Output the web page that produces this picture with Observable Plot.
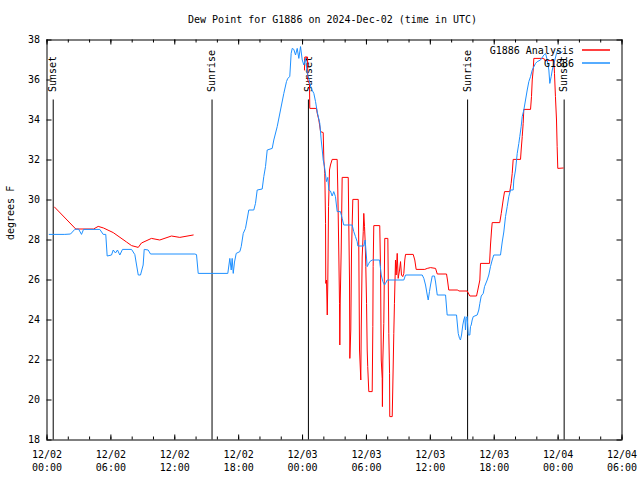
<!DOCTYPE html>
<html><head><meta charset="utf-8">
<script src="https://cdn.jsdelivr.net/npm/d3@7"></script>
<script src="https://cdn.jsdelivr.net/npm/@observablehq/plot@0.6"></script>
<style>html,body{margin:0;padding:0;background:#fff}svg{display:block}</style>
</head><body><div id="chart"></div>
<script>
const title = "Dew Point for G1886 on 2024-Dec-02 (time in UTC)";
const yLabel = "degrees F";
const startUTC = "2024-12-02T00:00:00Z";
const endUTC = "2024-12-04T06:00:00Z";
const yTicks = [18, 20, 22, 24, 26, 28, 30, 32, 34, 36, 38];
const xTickLabels = ["12/02\n00:00","12/02\n06:00","12/02\n12:00","12/02\n18:00","12/03\n00:00","12/03\n06:00","12/03\n12:00","12/03\n18:00","12/04\n00:00","12/04\n06:00"];
const seriesNames = ["G1886 Analysis", "G1886"];
const seriesColors = ["#ff0000", "#1e90ff"];

// Observations (hours since 12/02 00:00 UTC, deg F)
const obsHours = [0.21,1.67,2.21,2.61,2.96,3.24,3.43,4.96,5.28,5.52,5.65,6.06,6.22,6.43,6.62,6.84,7.09,7.94,8.25,8.41,8.57,8.78,9.03,9.13,9.5,9.72,13.88,14.04,14.2,16.98,17.17,17.3,17.39,17.49,17.61,17.77,18.11,18.24,18.43,18.64,18.95,19.42,19.58,19.74,20.21,20.36,20.52,20.68,21.15,21.3,21.62,21.93,22.24,22.49,22.61,22.8,22.93,23.03,23.18,23.34,23.5,23.65,23.81,23.97,24.12,24.28,24.44,24.59,24.81,25.06,25.22,25.38,25.62,25.75,25.85,25.94,26.06,26.16,26.25,26.37,26.47,26.62,26.78,26.93,27.09,27.25,27.56,27.72,27.87,28.66,28.81,28.97,29.13,29.19,29.75,29.88,30.07,30.22,30.32,30.54,31.23,31.39,31.54,31.7,31.79,31.95,33.51,33.67,35.24,35.39,35.55,35.71,35.8,35.92,36.02,36.18,36.39,36.49,36.65,37.43,37.58,38.46,38.62,38.74,38.83,38.93,39.05,39.14,39.24,39.3,39.37,39.46,39.56,39.71,39.77,39.84,39.93,40.03,40.4,40.55,40.65,40.78,40.97,41.09,41.34,41.49,41.65,41.81,41.96,42.59,42.75,42.9,43.06,43.22,43.37,43.53,43.78,43.84,44.0,44.16,44.31,44.4,44.53,44.63,44.78,44.94,45.1,45.25,45.41,45.57,45.88,46.04,46.35,46.66,46.82,46.98,47.13,47.22,47.35,47.45,47.66,47.85,47.97,48.22,48.38];
const obsValues = [28.28,28.28,28.3,28.53,28.55,28.28,28.53,28.53,28.28,28.28,27.2,27.25,27.5,27.35,27.5,27.25,27.53,27.53,27.27,26.75,26.25,26.25,26.75,27.53,27.5,27.3,27.3,27.27,26.33,26.33,27.08,26.5,27.08,26.33,26.9,27.33,27.42,27.67,28.33,28.58,29.5,29.5,29.83,30.5,30.55,31.17,31.67,32.5,32.58,33.0,33.67,34.5,35.33,35.92,36.08,36.17,37.33,37.58,37.53,37.25,37.58,37.08,37.67,37.0,36.75,37.08,36.33,36.08,35.58,35.33,34.92,34.4,33.83,33.0,32.5,32.0,31.67,31.25,30.92,31.13,30.5,30.45,30.2,30.42,30.17,29.42,29.42,29.08,28.75,28.75,28.42,28.17,27.92,27.7,27.7,28.0,26.67,26.83,26.92,27.0,27.0,26.25,25.92,25.75,25.83,26.0,26.0,26.25,26.25,26.08,25.75,25.25,25.0,25.42,25.75,26.2,26.2,25.9,25.25,25.25,24.25,24.25,23.33,23.08,23.0,23.25,23.75,24.0,24.17,23.5,24.08,24.17,23.25,23.25,23.67,23.75,24.0,24.17,24.25,24.5,24.83,25.2,25.33,25.67,26.0,26.25,26.67,27.0,27.25,27.25,27.9,28.4,29.17,29.67,30.17,30.5,30.5,31.0,31.5,32.33,32.83,33.17,33.67,34.17,34.5,35.0,35.5,35.92,36.17,36.5,36.83,36.92,37.0,37.25,37.33,37.0,36.5,35.83,36.17,36.5,36.92,37.33,37.5,37.33,37.42];

// Analysis (null marks the gap)
const anaHours = [0.7,2.7,4.37,4.81,5.31,6.22,7.47,7.94,8.57,8.87,9.81,10.59,11.69,12.47,13.73,19,24.18,24.21,24.47,24.49,24.65,24.68,25.31,25.38,25.53,25.69,25.94,26.0,26.09,26.16,26.18,26.25,26.32,26.37,26.44,26.53,26.62,26.78,27.25,27.31,27.4,27.47,27.5,27.54,27.63,27.72,28.29,28.34,28.41,28.44,28.53,28.6,28.72,29.23,29.28,29.35,29.47,29.51,29.6,29.7,29.75,29.82,29.88,29.94,30.01,30.07,30.12,30.22,30.54,30.6,30.63,30.69,31.25,31.32,31.39,31.48,31.5,31.54,31.63,31.72,32.01,32.1,32.17,32.19,32.42,32.47,32.57,32.63,32.73,32.79,32.89,32.98,33.11,33.2,33.29,33.41,33.51,33.6,33.67,34.39,34.54,34.67,35.48,35.71,36.02,36.49,36.65,37.52,37.61,37.73,38.58,38.67,39.46,39.61,39.71,40.34,40.46,40.65,40.71,41.56,41.65,41.75,41.81,42.52,42.66,42.84,42.97,43.46,43.59,43.69,43.78,44.47,44.53,44.63,44.72,44.78,45.41,45.5,45.57,45.66,45.72,46.66,46.75,47.6,47.66,47.75,47.85,47.91,47.97,48.48];
const anaValues = [29.65,28.55,28.55,28.68,28.6,28.37,27.9,27.72,27.63,27.85,28.08,28.0,28.2,28.13,28.25,null,36.5,37.15,37.15,36.0,35.8,34.58,34.58,34.33,34.0,33.42,33.37,32.0,31.33,28.83,25.83,26.0,24.25,25.85,29.67,31.5,31.75,32.03,32.03,30.5,27.5,24.83,22.75,25.0,27.5,31.13,31.13,28.85,26.0,22.08,23.5,27.5,30.03,30.03,27.7,22.5,21.0,23.5,27.15,28.42,29.33,28.67,27.92,26.67,24.83,22.5,21.67,20.42,20.42,23.67,26.67,28.72,28.72,26.67,22.0,21.08,19.67,22.0,23.83,28.08,28.08,23.33,21.33,19.17,19.17,20.5,23.33,24.83,27.0,26.25,27.33,26.08,26.5,26.92,26.25,26.17,26.33,27.0,27.28,27.28,27.0,26.53,26.53,26.58,26.62,26.58,26.3,26.3,26.0,25.5,25.5,25.45,25.45,25.3,25.2,25.2,25.5,26.0,26.83,26.83,27.75,28.5,28.87,28.87,29.33,30.0,30.42,30.42,30.83,31.33,32.03,32.03,32.5,33.17,33.83,34.53,34.53,35.17,36.0,36.5,37.08,37.08,36.97,36.97,36.33,35.17,34.0,32.67,31.58,31.6];

const sunLabels = ["Sunset", "Sunrise", "Sunset", "Sunrise", "Sunset"];
const sunTimes = ["2024-12-02T00:35:00Z", "2024-12-02T15:30:00Z", "2024-12-03T00:33:00Z", "2024-12-03T15:30:00Z", "2024-12-04T00:34:00Z"];
const sunLineTop = 35;

const t0 = Date.parse(startUTC);
const toDate = h => new Date(t0 + h * 3600000);
const obs = obsHours.map((h, i) => ({t: toDate(h), v: obsValues[i]}));
const ana = anaHours.map((h, i) => ({t: toDate(h), v: anaValues[i]}));
const sun = sunTimes.map((s, i) => ({t: new Date(s), label: sunLabels[i]}));

const x0 = new Date(startUTC), x1 = new Date(endUTC);
const majorTicks = d3.utcHour.every(6).range(x0, new Date(+x1 + 1));
const minorTicks = d3.utcHour.every(2).range(x0, new Date(+x1 + 1));
const fmtX = d => xTickLabels[majorTicks.findIndex(t => +t === +d)];
const font = "DejaVu Sans Mono";
const lineSymbol = {draw(ctx) { ctx.moveTo(-14, 0); ctx.lineTo(14, 0); }};

const W = 640, H = 480, mL = 46.5, mR = 18.5, mT = 39.5, mB = 40.5;
const FW = W - mL - mR, FH = H - mT - mB;
const MAJ = 5, MIN = 3;
const id = d => d;

const chart = Plot.plot({
  width: W, height: H,
  marginLeft: mL, marginRight: mR, marginTop: mT, marginBottom: mB,
  style: {fontFamily: font, fontSize: "10px", background: "#fff", color: "#000"},
  x: {type: "utc", domain: [x0, x1]},
  y: {domain: [18, 38]},
  axis: null,
  marks: [
    // inward-pointing ticks on all four sides
    Plot.tickX(minorTicks, {x: id, insetTop: FH - MIN, stroke: "#000"}),
    Plot.tickX(minorTicks, {x: id, insetBottom: FH - MIN, stroke: "#000"}),
    Plot.tickX(majorTicks, {x: id, insetTop: FH - MAJ, stroke: "#000"}),
    Plot.tickX(majorTicks, {x: id, insetBottom: FH - MAJ, stroke: "#000"}),
    Plot.tickY(yTicks, {y: id, insetRight: FW - MAJ, stroke: "#000"}),
    Plot.tickY(yTicks, {y: id, insetLeft: FW - MAJ, stroke: "#000"}),
    // tick labels
    Plot.axisX({anchor: "bottom", ticks: majorTicks, tickSize: 0, tickPadding: 9, tickFormat: fmtX, label: null, lineHeight: 1.3}),
    Plot.axisY({anchor: "left", ticks: yTicks, tickSize: 0, tickPadding: 7, label: null}),
    Plot.frame({stroke: "#000"}),
    Plot.ruleX(sun, {x: "t", y1: sunLineTop, y2: 18, stroke: "#000"}),
    Plot.text(sun, {x: "t", y: sunLineTop, text: "label", rotate: -90, textAnchor: "start", dy: -8, fill: "#000"}),
    Plot.line(ana, {x: "t", y: "v", stroke: seriesColors[0], strokeWidth: 1}),
    Plot.line(obs, {x: "t", y: "v", stroke: seriesColors[1], strokeWidth: 1}),
    Plot.text([title], {frameAnchor: "top", lineAnchor: "middle", dy: -20, dx: -2, fill: "#000"}),
    Plot.text([yLabel], {frameAnchor: "left", rotate: -90, dx: -36.5, fill: "#000"}),
    Plot.text([seriesNames[0]], {frameAnchor: "top-right", lineAnchor: "middle", textAnchor: "end", dx: -48, dy: 11, fill: "#000"}),
    Plot.text([seriesNames[1]], {frameAnchor: "top-right", lineAnchor: "middle", textAnchor: "end", dx: -48, dy: 24, fill: "#000"}),
    Plot.dot([seriesNames[0]], {frameAnchor: "top-right", dx: -26, dy: 10, symbol: lineSymbol, stroke: seriesColors[0], fill: "none"}),
    Plot.dot([seriesNames[1]], {frameAnchor: "top-right", dx: -26, dy: 23, symbol: lineSymbol, stroke: seriesColors[1], fill: "none"})
  ]
});
document.getElementById("chart").appendChild(chart);
</script>
</body></html>
